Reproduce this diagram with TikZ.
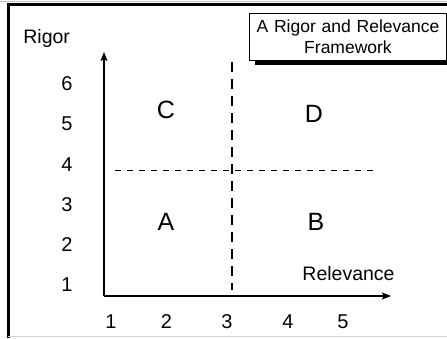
\documentclass[tikz,border=0pt]{standalone}
\usepackage{fontspec}
\setmainfont{Liberation Sans}
\usetikzlibrary{arrows.meta, shadows}
\tikzstyle{ticklabel} = [font=\fontsize{20}{23}\selectfont, inner sep=0pt]
\tikzstyle{axislabel} = [font=\fontsize{19.5}{22}\selectfont, inner sep=0pt, anchor=base]
\tikzstyle{quadrant} = [font=\fontsize{25}{28}\selectfont, inner sep=0pt]
\tikzstyle{titlebox} = [rectangle, draw=black, line width=1pt, fill=white, minimum width=194pt, minimum height=47pt, text width=190pt, align=center, font=\fontsize{17.5}{21}\selectfont, drop shadow={shadow xshift=5pt, shadow yshift=-5pt, fill=black, opacity=1}]
\tikzstyle{axis} = [line width=2pt, ->, >={Stealth[length=9pt, width=7pt, inset=2pt]}]
\tikzstyle{divider} = [line width=2.5pt, dash pattern=on 10pt off 7pt]
\tikzstyle{split} = [line width=1pt, dash pattern=on 6pt off 6pt]

\begin{document}
\begin{tikzpicture}[x=1pt, y=-1pt, node distance=40.2pt]

\useasboundingbox (0,0) rectangle (447,338);

% frame
\draw [gray!50, line width=0.8pt] (0,1) -- (447,1);
\draw [line width=2.5pt] (8.7,338) -- (8.7,4.5) -- (447,4.5);
\draw [gray!35, line width=1pt] (8,336.5) -- (447,336.5);

\node (title) [titlebox] at (348,36.5) {A Rigor and Relevance\\Framework};

\node (rigor) [axislabel] at (46.7,43) {Rigor};
\node (relevance) [axislabel] at (348.5,280) {Relevance};

\node (y6) [ticklabel] at (67,84) {6};
\node (y5) [ticklabel, below of=y6] {5};
\node (y4) [ticklabel, below of=y5] {4};
\node (y3) [ticklabel, below of=y4] {3};
\node (y2) [ticklabel, below of=y3] {2};
\node (y1) [ticklabel, below of=y2] {1};

\node (x1) [ticklabel] at (111,321.5) {1};
\node (x2) [ticklabel] at (166.5,321.5) {2};
\node (x3) [ticklabel] at (227,321.5) {3};
\node (x4) [ticklabel] at (288,321.5) {4};
\node (x5) [ticklabel] at (343,321.5) {5};

\node (quadC) [quadrant] at (166,110) {C};
\node (quadD) [quadrant] at (314,114) {D};
\node (quadA) [quadrant] at (166,222) {A};
\node (quadB) [quadrant] at (316,222) {B};

\coordinate (origin) at (104,296);
\coordinate (ytop) at (104,52);
\coordinate (xend) at (391,296);
\coordinate (vtop) at (232,62);
\coordinate (vbot) at (232,290);
\coordinate (hleft) at (115,170.5);
\coordinate (hright) at (374,170.5);

\draw [axis] (origin) -- (ytop);
\draw [axis] (origin) -- (xend);
\draw [divider] (vtop) -- (vbot);
\draw [split] (hleft) -- (hright);

\end{tikzpicture}
\end{document}
